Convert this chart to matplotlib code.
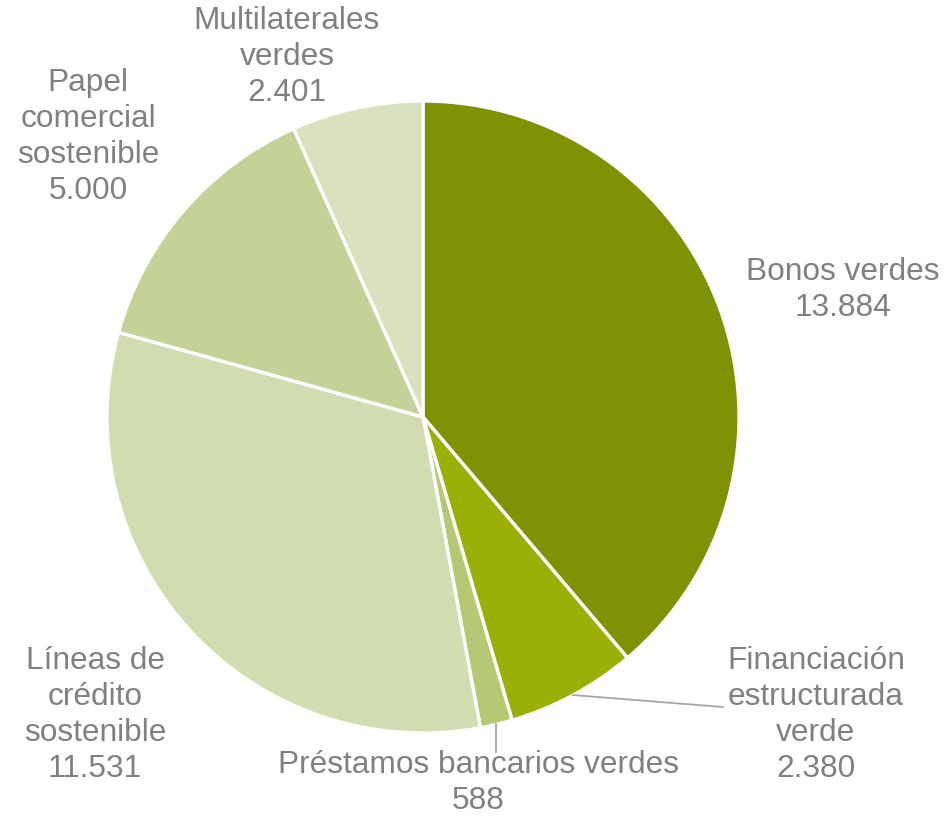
import numpy as np
import matplotlib
matplotlib.use("Agg")
import matplotlib.pyplot as plt

plt.rcParams['font.family'] = ['Liberation Sans', 'DejaVu Sans']

categories = ["Bonos verdes", "Financiación\nestructurada\nverde", "Préstamos bancarios verdes",
              "Líneas de\ncrédito\nsostenible", "Papel\ncomercial\nsostenible", "Multilaterales\nverdes"]
values = [13884, 2380, 588, 11531, 5000, 2401]
value_labels = ["13.884", "2.380", "588", "11.531", "5.000", "2.401"]
colors = ["#7F9204", "#9AB009", "#B6C874", "#D2DCB1", "#C4D197", "#D9E1BF"]

W, H = 945, 816
fig = plt.figure(figsize=(W / 100, H / 100), dpi=100)
ax = fig.add_axes([0, 0, 1, 1])

cx, cy, r = 423, H - 417, 316
wedges, _ = ax.pie(values, colors=colors, startangle=90, counterclock=False,
                   center=(cx, cy), radius=r, frame=True,
                   wedgeprops=dict(edgecolor='white', linewidth=2.4))
ax.set_xlim(0, W)
ax.set_ylim(0, H)
ax.set_aspect('equal')
ax.axis('off')

text_color = "#808080"
# label centres (pixel coordinates, y measured from top)
label_pos = [(843, 290), (816, 715), (478, 783), (95, 715), (88, 137), (287, 57)]
for name, val, (lx, ly) in zip(categories, value_labels, label_pos):
    ax.text(lx, H - ly, f"{name}\n{val}", ha='center', va='center', color=text_color,
            fontsize=22.8, linespacing=1.25)

# leader lines from the mid-angle of the small wedges
total = sum(values)
cum = np.cumsum([0] + values)
def mid_point(i):
    frac = (cum[i] + cum[i + 1]) / 2 / total
    ang = np.deg2rad(90 - 360 * frac)
    return cx + r * np.cos(ang), cy + r * np.sin(ang)

x0, y0 = mid_point(1)
ax.plot([x0, 723], [y0, H - 707], color="#A6A6A6", lw=1.3)
x0, y0 = mid_point(2)
ax.plot([x0, x0], [y0, H - 752], color="#A6A6A6", lw=1.3)

fig.savefig("out.png", dpi=100, facecolor='white')
